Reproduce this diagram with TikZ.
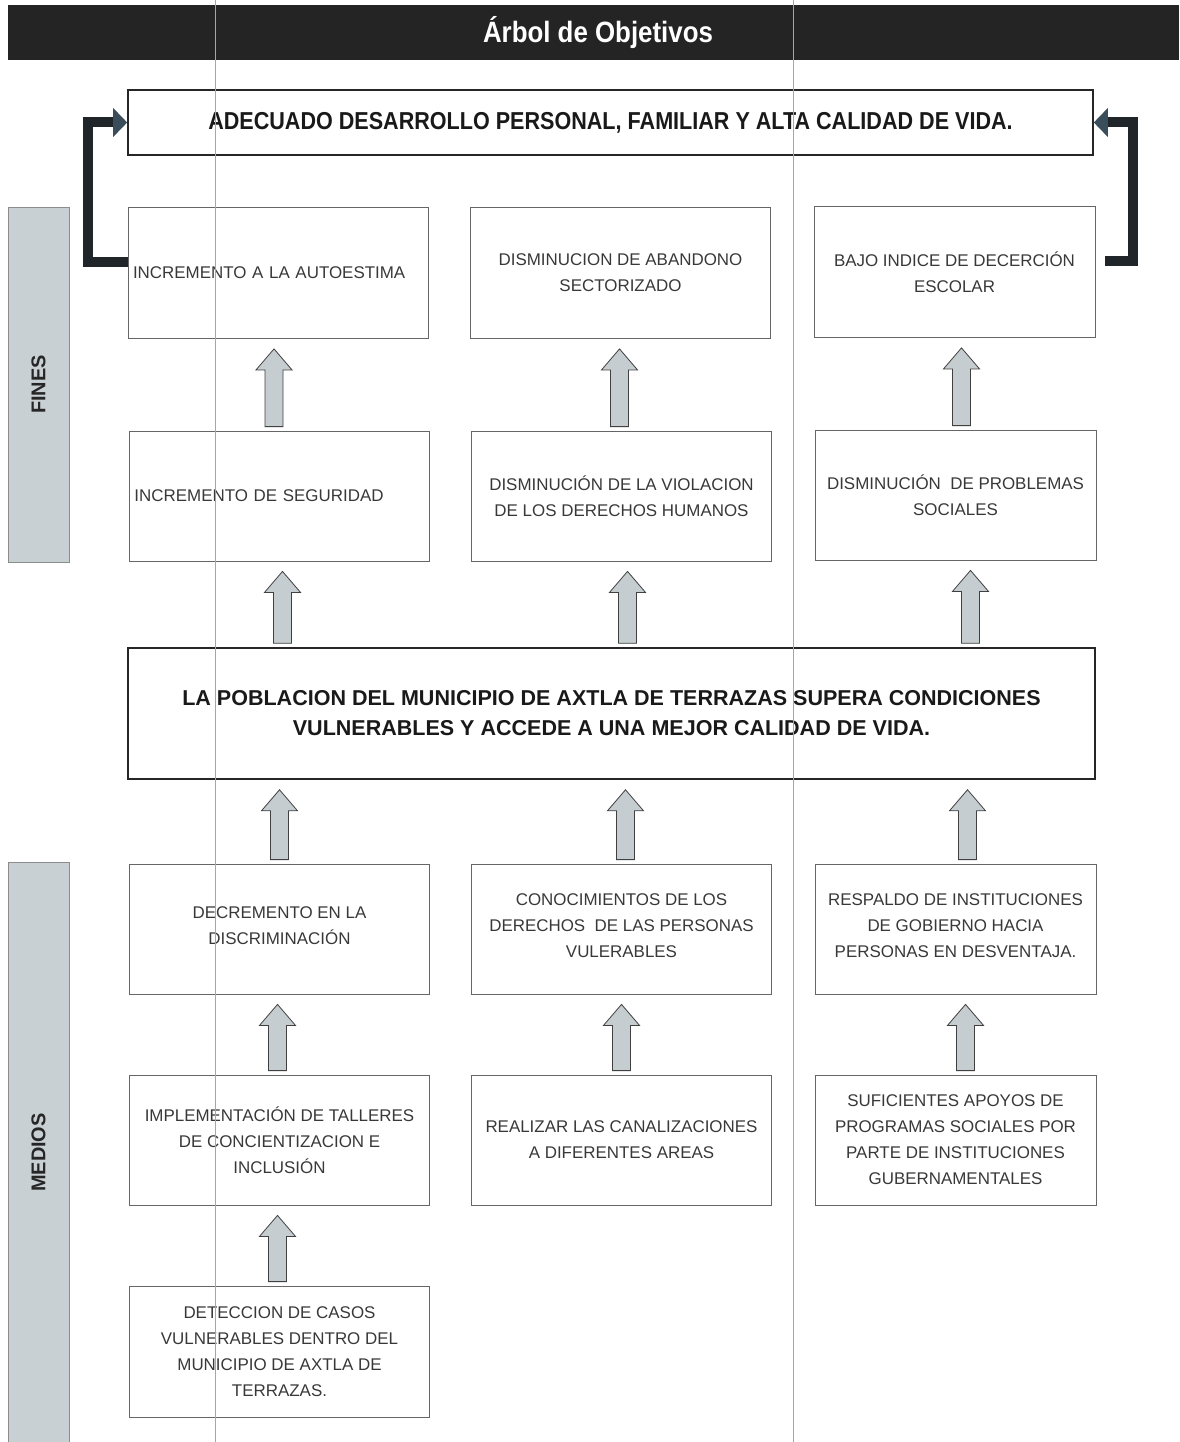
\documentclass[tikz,border=0pt]{standalone}
\usepackage{fontspec}
\setmainfont{Liberation Sans}
\newfontfamily\narrowfont[FakeStretch=0.88]{Liberation Sans}
\usetikzlibrary{calc,arrows.meta}
\definecolor{barfill}{HTML}{C9D0D4}
\definecolor{arrfill}{HTML}{C5CDD1}
\definecolor{brackcol}{HTML}{1F2529}
\definecolor{tipcol}{HTML}{3A4D5A}

% block arrow: #2 lower node, #3 upper node, #4 column node, #1 x offset
\newcommand\blockup[4][0]{%
\draw[blockarr] let \p0=(#4.center), \p1=(#2.north), \p2=(#3.south) in
 (\x0+#1bp-9bp,\y1+4bp) -- (\x0+#1bp-9bp,\y2-31bp) -- (\x0+#1bp-18bp,\y2-31bp)
 -- (\x0+#1bp,\y2-10bp) -- (\x0+#1bp+18bp,\y2-31bp) -- (\x0+#1bp+9bp,\y2-31bp)
 -- (\x0+#1bp+9bp,\y1+4bp) -- cycle;}

\begin{document}
\begin{tikzpicture}[x=1bp,y=-1bp,inner sep=0,
  box/.style={draw=black!60,line width=0.8bp,text=black!78,align=center,
    font=\fontsize{17}{26}\selectfont,minimum height=131bp},
  colA/.style={box,minimum width=300bp},
  colB/.style={box,minimum width=300bp},
  colC/.style={box,minimum width=281bp},
  bigbox/.style={draw=black!85,line width=1.5bp,text=black!90,align=center},
  sidebar/.style={fill=barfill,draw=black!45,line width=0.6bp,rotate=90,
    minimum height=61bp,font=\fontsize{20}{20}\selectfont\bfseries,text=black!85},
  blockarr/.style={fill=arrfill,draw=black!75,line width=0.8bp,line join=miter},
  bracket/.style={draw=brackcol,line width=10bp,line join=miter,
    -{Triangle[width=28bp,length=14bp,color=tipcol,fill=tipcol]}},
  scanline/.style={draw=black!35,line width=0.6bp}]
\useasboundingbox (0,0) rectangle (1179,1442);

% title bar
\node[fill=black!86,minimum width=1171bp,minimum height=55bp,text=white,
  font=\narrowfont\fontsize{29.5}{30}\selectfont\bfseries] (banner) at (593.5,32.5) {\hspace{9bp}Árbol de Objetivos};

% side bars
\node[sidebar,minimum width=355bp] (fines) at (38.5,384.5) {FINES};
\node[sidebar,minimum width=580bp] (medios) at (38.5,1152.5) {MEDIOS};

% top goal
\node[bigbox,minimum width=965bp,minimum height=65bp,
  font=\narrowfont\fontsize{24.6}{30}\selectfont\bfseries] (top) at (610.5,122.5) {ADECUADO DESARROLLO PERSONAL, FAMILIAR Y ALTA CALIDAD DE VIDA.};

% fines
\node[colA,text width=290bp,align=left] (incA) at (278,273) {INCREMENTO A LA AUTOESTIMA};
\node[colB] (disA) at (620.5,273) {DISMINUCION DE ABANDONO\\SECTORIZADO};
\node[colC] (bajo) at (954.5,272) {BAJO INDICE DE DECERCIÓN\\ESCOLAR};
\node[colA,text width=290bp,align=left,minimum height=130bp] (incB) at (279.5,496) {INCREMENTO DE SEGURIDAD};
\node[colB,minimum height=130bp] (disB) at (621.5,496) {DISMINUCIÓN DE LA VIOLACION\\DE LOS DERECHOS HUMANOS};
\node[colC,minimum height=130bp] (disC) at (955.5,495) {DISMINUCIÓN\ \ DE PROBLEMAS\\SOCIALES};

% central objective
\node[bigbox,minimum width=967bp,minimum height=131bp,
  font=\fontsize{21.6}{30}\selectfont\bfseries] (obj) at (611.5,713.5) {LA POBLACION DEL MUNICIPIO DE AXTLA DE TERRAZAS SUPERA CONDICIONES\\VULNERABLES Y ACCEDE A UNA MEJOR CALIDAD DE VIDA.};

% medios
\node[colA,minimum height=130bp] (decr) at (279.5,929) {DECREMENTO EN LA\\DISCRIMINACIÓN\vspace{6bp}};
\node[colB,minimum height=130bp] (cono) at (621.5,929) {CONOCIMIENTOS DE LOS\\DERECHOS\ \ DE LAS PERSONAS\\VULERABLES\vspace{6bp}};
\node[colC,minimum height=130bp] (resp) at (955.5,929) {RESPALDO DE INSTITUCIONES\\DE GOBIERNO HACIA\\PERSONAS EN DESVENTAJA.\vspace{6bp}};
\node[colA,minimum height=130bp] (impl) at (279.5,1140) {IMPLEMENTACIÓN DE TALLERES\\DE CONCIENTIZACION E\\INCLUSIÓN};
\node[colB,minimum height=130bp] (real) at (621.5,1140) {REALIZAR LAS CANALIZACIONES\\A DIFERENTES AREAS};
\node[colC,minimum height=130bp] (sufi) at (955.5,1140) {SUFICIENTES APOYOS DE\\PROGRAMAS SOCIALES POR\\PARTE DE INSTITUCIONES\\GUBERNAMENTALES};
\node[colA] (dete) at (279.5,1351.5) {DETECCION DE CASOS\\VULNERABLES DENTRO DEL\\MUNICIPIO DE AXTLA DE\\TERRAZAS.};

% brackets to top goal
\draw[bracket] ([yshift=11bp]incA.west) -- ++(-40,0) |- (top.west); %left
\draw[bracket] ([xshift=10bp,yshift=11bp]bajo.east) -- ++(28,0) |- (top.east); %right

% block arrows
\blockup[-4]{incB}{incA}{incA}
\blockup[-1]{disB}{disA}{disA}
\blockup[7]{disC}{bajo}{bajo}
\blockup[3]{obj}{incB}{incB}
\blockup[6]{obj}{disB}{disB}
\blockup[15]{obj}{disC}{disC}
\blockup{decr}{obj}{decr}
\blockup[4]{cono}{obj}{cono}
\blockup[12]{resp}{obj}{resp}
\blockup[-2]{impl}{decr}{decr}
\blockup[0]{real}{cono}{cono}
\blockup[10]{sufi}{resp}{resp}
\blockup[-2]{dete}{impl}{impl}

% scan creases
\draw[scanline] (215,0) -- (215,1442);
\draw[scanline] (793,0) -- (793,1442);
\end{tikzpicture}
\end{document}
